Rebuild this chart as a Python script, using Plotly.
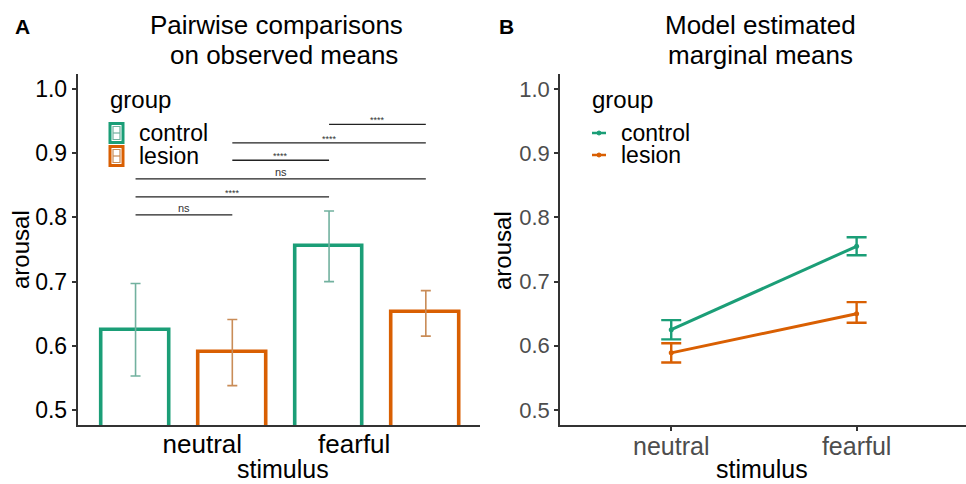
import plotly.graph_objects as go

# ---------------- data ----------------
stimuli = ["neutral", "fearful"]
groups = ["control", "lesion"]
colors = {"control": "#1b9e77", "lesion": "#d95f02"}
err_colors = {"control": "#72b19f", "lesion": "#c98c57"}

# Panel A: observed means with error bars
obs_mean = {"control": [0.625, 0.756], "lesion": [0.590, 0.652]}
obs_upper = {"control": [0.697, 0.810], "lesion": [0.641, 0.686]}
obs_lower = {"control": [0.553, 0.700], "lesion": [0.538, 0.615]}

# pairwise comparisons: (stimulus_a, group_a, stimulus_b, group_b, y, label)
comparisons = [
    ("neutral", "control", "neutral", "lesion", 0.804, "ns"),
    ("neutral", "control", "fearful", "control", 0.832, "****"),
    ("neutral", "control", "fearful", "lesion", 0.860, "ns"),
    ("neutral", "lesion", "fearful", "control", 0.889, "****"),
    ("neutral", "lesion", "fearful", "lesion", 0.916, "****"),
    ("fearful", "control", "fearful", "lesion", 0.945, "****"),
]

# Panel B: model estimated marginal means
emm_mean = {"control": [0.625, 0.755], "lesion": [0.589, 0.650]}
emm_upper = {"control": [0.640, 0.769], "lesion": [0.604, 0.668]}
emm_lower = {"control": [0.610, 0.741], "lesion": [0.574, 0.636]}

y_ticks = [0.5, 0.6, 0.7, 0.8, 0.9, 1.0]
y_range = [0.4766, 1.0234]
stim_label_pos = [1.69, 3.26]   # where panel A's stimulus labels sit

FONT = "Liberation Sans, Arial, sans-serif"
W, H = 966, 484


def px(xp):
    return xp / W


def py(yp):
    return (H - yp) / H


def bar_pos(stim, grp):
    return 1 + 2 * stimuli.index(stim) + groups.index(grp)


fig = go.Figure()

# ---------------- Panel A bars ----------------
for g in groups:
    xs = [bar_pos(s, g) for s in stimuli]
    fig.add_trace(go.Bar(
        x=xs, y=obs_mean[g], width=0.70, name=g,
        marker=dict(color="white", line=dict(color=colors[g], width=3.6)),
        error_y=dict(type="data", symmetric=False,
                     array=[u - m for u, m in zip(obs_upper[g], obs_mean[g])],
                     arrayminus=[m - l for m, l in zip(obs_mean[g], obs_lower[g])],
                     color=err_colors[g], thickness=1.6, width=5),
        xaxis="x", yaxis="y", showlegend=False,
    ))

# comparison brackets
for sa, ga, sb, gb, yv, lab in comparisons:
    xa, xb = bar_pos(sa, ga), bar_pos(sb, gb)
    fig.add_shape(type="line", xref="x", yref="y", x0=xa, x1=xb, y0=yv, y1=yv,
                  line=dict(color="#222222", width=1.3))
    fig.add_annotation(xref="x", yref="y", x=(xa + xb) / 2, y=yv, text=lab,
                       showarrow=False, xanchor="center", yanchor="bottom",
                       yshift=(-3 if lab.startswith("*") else -1),
                       font=dict(family=FONT, size=(9 if lab.startswith("*") else 11),
                                 color="#333333"))

# ---------------- Panel B lines ----------------
for g in groups:
    fig.add_trace(go.Scatter(
        x=stimuli, y=emm_mean[g], mode="lines+markers", name=g,
        line=dict(color=colors[g], width=3),
        marker=dict(color=colors[g], size=5),
        error_y=dict(type="data", symmetric=False,
                     array=[u - m for u, m in zip(emm_upper[g], emm_mean[g])],
                     arrayminus=[m - l for m, l in zip(emm_mean[g], emm_lower[g])],
                     color=colors[g], thickness=2.4, width=10),
        xaxis="x2", yaxis="y2", showlegend=False,
    ))

axis_common = dict(showline=True, linecolor="#333333", linewidth=1.5,
                   showgrid=False, zeroline=False, mirror=False)

ydom = [py(425), py(74)]
fig.update_layout(
    width=W, height=H,
    margin=dict(l=0, r=0, t=0, b=0),
    paper_bgcolor="white", plot_bgcolor="white",
    font=dict(family=FONT, color="black"),
    xaxis=dict(domain=[px(77.5), px(480)], range=[0.4, 4.56],
               tickmode="array", tickvals=stim_label_pos, ticktext=stimuli,
               ticks="", tickfont=dict(size=26, color="black"),
               ticklabelstandoff=-5,
               anchor="y", **axis_common),
    yaxis=dict(domain=ydom, range=y_range, tickmode="array", tickvals=y_ticks,
               tickformat=".1f", ticks="outside", ticklen=4, tickwidth=1.5,
               tickcolor="#333333", tickfont=dict(size=23, color="black"),
               anchor="x", **axis_common),
    xaxis2=dict(domain=[px(560), 1.0], type="category", range=[-0.6, 1.59],
                ticks="outside", ticklen=4, tickwidth=1.5, tickcolor="#333333",
                tickfont=dict(size=25, color="#4d4d4d"), ticklabelstandoff=-6,
                anchor="y2", **axis_common),
    yaxis2=dict(domain=ydom, range=y_range, tickmode="array", tickvals=y_ticks,
                tickformat=".1f", ticks="outside", ticklen=4, tickwidth=1.5,
                tickcolor="#333333", tickfont=dict(size=22, color="#4d4d4d"),
                anchor="x2", **axis_common),
    bargap=0,
)


def text(x, y, s, size, xanchor="center", **kw):
    fig.add_annotation(xref="paper", yref="paper", x=px(x), y=py(y), text=s,
                       showarrow=False, xanchor=xanchor, yanchor="middle",
                       font=dict(family=FONT, size=size,
                                 color=kw.pop("color", "black")),
                       **kw)


# titles and panel letters
text(22, 27, "<b>A</b>", 21)
text(506, 27, "<b>B</b>", 21)
text(276, 25, "Pairwise comparisons", 26)
text(284, 55, "on observed means", 26)
text(760, 25, "Model estimated", 26)
text(760, 55, "marginal means", 26)

# axis titles
text(283, 469, "stimulus", 25)
text(762, 469, "stimulus", 25)
text(21, 250, "arousal", 24, textangle=-90)
text(503, 250, "arousal", 24, textangle=-90)

# legend panel A
text(108, 100, "group", 24, xanchor="left")
legend_rows = [133, 156]
for g, yc in zip(groups, legend_rows):
    fig.add_shape(type="rect", xref="paper", yref="paper",
                  x0=px(110), x1=px(123), y0=py(yc - 9.5), y1=py(yc + 9.5),
                  line=dict(color=colors[g], width=3), fillcolor="white")
    fig.add_shape(type="rect", xref="paper", yref="paper",
                  x0=px(113), x1=px(120), y0=py(yc - 6.5), y1=py(yc + 6.5),
                  line=dict(color=err_colors[g], width=1.2), fillcolor="white")
    fig.add_shape(type="line", xref="paper", yref="paper",
                  x0=px(113), x1=px(120), y0=py(yc), y1=py(yc),
                  line=dict(color=err_colors[g], width=1.2))
    text(137, yc, g, 23, xanchor="left")

# legend panel B
text(590, 100, "group", 24, xanchor="left")
for g, yc in zip(groups, [133, 155]):
    fig.add_shape(type="line", xref="paper", yref="paper",
                  x0=px(592), x1=px(606), y0=py(yc), y1=py(yc),
                  line=dict(color=colors[g], width=2.5))
    fig.add_shape(type="circle", xref="paper", yref="paper",
                  x0=px(597), x1=px(601), y0=py(yc + 2), y1=py(yc - 2),
                  line=dict(color=colors[g], width=1), fillcolor=colors[g])
    text(619, yc, g, 23, xanchor="left")

fig.write_html("out.html")
